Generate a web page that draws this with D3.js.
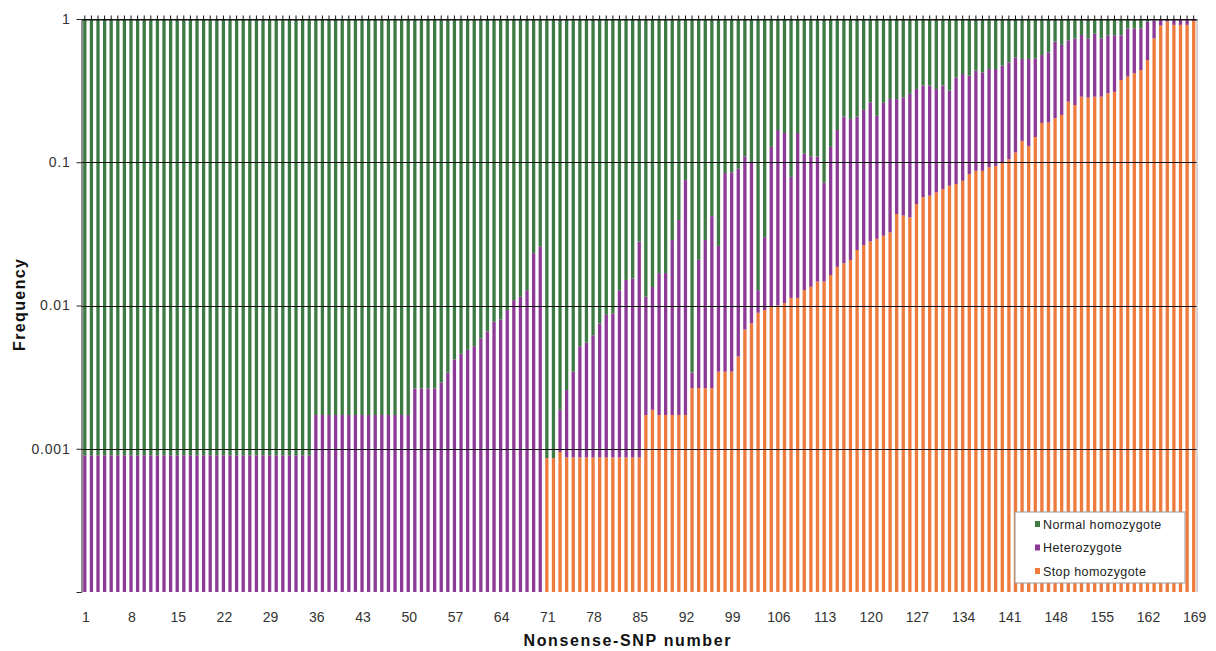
<!DOCTYPE html>
<html>
<head>
<meta charset="utf-8">
<script src="https://cdn.jsdelivr.net/npm/d3@7"></script>
<style>
  body { margin: 0; background: #fff; }
  svg { display: block; font-family: "Liberation Sans", Arial, sans-serif; }
</style>
</head>
<body>
<div id="chart"></div>
<script>
// categories: nonsense-SNP number 1..169
const snpNumber = d3.range(1, 170);

// genotype frequencies
const stopHomozygote = [
  0, 0, 0, 0, 0, 0, 0, 0, 0, 0,
  0, 0, 0, 0, 0, 0, 0, 0, 0, 0,
  0, 0, 0, 0, 0, 0, 0, 0, 0, 0,
  0, 0, 0, 0, 0, 0, 0, 0, 0, 0,
  0, 0, 0, 0, 0, 0, 0, 0, 0, 0,
  0, 0, 0, 0, 0, 0, 0, 0, 0, 0,
  0, 0, 0, 0, 0, 0, 0, 0, 0, 0,
  0.00086, 0.00086, 0.00095, 0.00087, 0.00087, 0.00087, 0.00087, 0.00087, 0.00087, 0.00087,
  0.00087, 0.00087, 0.00087, 0.00087, 0.00087, 0.00172, 0.00187, 0.00172, 0.00172, 0.00172,
  0.00172, 0.00172, 0.00265, 0.00265, 0.00265, 0.00265, 0.00345, 0.00345, 0.00345, 0.0044,
  0.0068, 0.0075, 0.0089, 0.0093, 0.0098, 0.0100, 0.0104, 0.0113, 0.0113, 0.0128,
  0.0135, 0.0147, 0.0147, 0.0163, 0.0186, 0.0197, 0.0208, 0.0244, 0.0264, 0.0280,
  0.0292, 0.0307, 0.0324, 0.0435, 0.0425, 0.0412, 0.0511, 0.0571, 0.0585, 0.0617,
  0.065, 0.0686, 0.0705, 0.0742, 0.0827, 0.0871, 0.0871, 0.0923, 0.0944, 0.100,
  0.105, 0.117, 0.141, 0.130, 0.150, 0.188, 0.19, 0.203, 0.214, 0.265,
  0.251, 0.287, 0.283, 0.287, 0.287, 0.303, 0.31, 0.375, 0.396, 0.418,
  0.44, 0.517, 0.733, 0.90, 0.96, 0.91, 0.91, 0.91, 0.97
];

const heterozygote = [
  0.0009, 0.0009, 0.0009, 0.0009, 0.0009, 0.0009, 0.0009, 0.0009, 0.0009, 0.0009,
  0.0009, 0.0009, 0.0009, 0.0009, 0.0009, 0.0009, 0.0009, 0.0009, 0.0009, 0.0009,
  0.0009, 0.0009, 0.0009, 0.0009, 0.0009, 0.0009, 0.0009, 0.0009, 0.0009, 0.0009,
  0.0009, 0.0009, 0.0009, 0.0009, 0.0009, 0.00172, 0.00172, 0.00172, 0.00172, 0.00172,
  0.00172, 0.00172, 0.00172, 0.00172, 0.00172, 0.00172, 0.00172, 0.00172, 0.00172, 0.00172,
  0.00264, 0.00264, 0.00264, 0.00264, 0.0029, 0.0034, 0.0042, 0.0046, 0.0049, 0.0052,
  0.0059, 0.0066, 0.0077, 0.0080, 0.0093, 0.0109, 0.0115, 0.0128, 0.0232, 0.0257,
  0, 0, 0.00092, 0.0017, 0.00258, 0.00433, 0.00463, 0.00533, 0.00663, 0.00773,
  0.00793, 0.0119, 0.0142, 0.0146, 0.0270, 0.0098, 0.0116, 0.0151, 0.0151, 0.0269,
  0.0378, 0.0733, 0.00075, 0.0182, 0.0260, 0.0394, 0.0226, 0.0806, 0.0816, 0.0856,
  0.1032, 0.0925, 0.0039, 0.0207, 0.1182, 0.158, 0.1496, 0.0677, 0.1487, 0.1022,
  0.0965, 0.0953, 0.0573, 0.1117, 0.1494, 0.1883, 0.1792, 0.1836, 0.2056, 0.234,
  0.1818, 0.2293, 0.2436, 0.2325, 0.2415, 0.2588, 0.2739, 0.2859, 0.2845, 0.2633,
  0.278, 0.2474, 0.3205, 0.3388, 0.3193, 0.3489, 0.3369, 0.3557, 0.3536, 0.372,
  0.393, 0.423, 0.385, 0.396, 0.381, 0.372, 0.395, 0.492, 0.446, 0.445,
  0.479, 0.486, 0.447, 0.503, 0.443, 0.467, 0.46, 0.395, 0.464, 0.442,
  0.42, 0.443, 0.247, 0.10, 0.04, 0.09, 0.09, 0.09, 0.03
];

const seriesKeys = ["stop", "het", "normal"];
const seriesColors = ["#ee7b3b", "#8d3a97", "#3e7b44"];
const legendNames = ["Normal homozygote", "Heterozygote", "Stop homozygote"];
const legendColors = ["#3e7b44", "#8d3a97", "#ee7b3b"];
const yTicks = [1, 0.1, 0.01, 0.001, 0.0001];
const yTickLabels = ["1", "0.1", "0.01", "0.001", ""];
const xTickLabels = [1, 8, 15, 22, 29, 36, 43, 50, 57, 64, 71, 78, 85, 92, 99,
  106, 113, 120, 127, 134, 141, 148, 155, 162, 169];

const rows = snpNumber.map((n, i) => ({
  snp: n,
  stop: stopHomozygote[i],
  het: heterozygote[i],
  normal: Math.max(0, 1 - stopHomozygote[i] - heterozygote[i])
}));

const W = 1216, H = 651;
const plot = { left: 81.5, right: 1197, top: 19, bottom: 592 };

const svg = d3.select("#chart").append("svg")
  .attr("width", W).attr("height", H);

const x = d3.scaleBand()
  .domain(snpNumber)
  .range([plot.left, plot.right])
  .paddingInner(0.5)
  .paddingOuter(0.25);

const y = d3.scaleLog()
  .domain([0.0001, 1])
  .range([plot.bottom, plot.top])
  .clamp(true);

// bars
const stacked = d3.stack().keys(seriesKeys)(rows);
svg.append("g").selectAll("g")
  .data(stacked)
  .join("g")
  .attr("fill", (d, i) => seriesColors[i])
  .selectAll("rect")
  .data(d => d)
  .join("rect")
  .attr("x", d => x(d.data.snp))
  .attr("width", x.bandwidth())
  .attr("y", d => y(d[1]))
  .attr("height", d => Math.max(0, y(d[0]) - y(d[1])));

// gridlines
svg.append("g").selectAll("line")
  .data(yTicks.slice(0, 4))
  .join("line")
  .attr("x1", plot.left).attr("x2", plot.right)
  .attr("y1", d => Math.round(y(d)) + 0.5).attr("y2", d => Math.round(y(d)) + 0.5)
  .attr("stroke", "#111").attr("stroke-width", 1);

// right border of plot area
svg.append("line")
  .attr("x1", plot.right).attr("x2", plot.right)
  .attr("y1", plot.top).attr("y2", plot.bottom)
  .attr("stroke", "#a8a8a8");

// category axis crosses at 1 : tick marks on top
svg.append("g")
  .attr("transform", `translate(0,${Math.round(y(1)) + 0.5})`)
  .call(d3.axisTop(x).tickSize(4).tickSizeOuter(0).tickFormat(""))
  .call(g => g.select(".domain").attr("stroke", "#111"))
  .call(g => g.selectAll(".tick line").attr("stroke", "#111"));

// category labels at the bottom
svg.append("g").selectAll("text")
  .data(xTickLabels)
  .join("text")
  .attr("x", d => x(d) + x.bandwidth() / 2 + 1)
  .attr("y", 622)
  .attr("text-anchor", "middle")
  .attr("font-size", 14)
  .attr("fill", "#333")
  .text(d => d);

// value axis
const yAxis = svg.append("g")
  .attr("transform", `translate(${Math.round(plot.left) - 0.5},0)`)
  .call(d3.axisLeft(y).tickValues(yTicks).tickSize(5).tickSizeOuter(0)
    .tickFormat((d, i) => yTickLabels[i]));
yAxis.select(".domain").attr("stroke", "#222");
yAxis.selectAll(".tick line").attr("stroke", "#222");
yAxis.selectAll(".tick text")
  .attr("font-size", 14)
  .attr("font-family", "Liberation Sans, Arial, sans-serif")
  .attr("letter-spacing", 0.8)
  .attr("fill", "#333")
  .attr("x", -11);

// axis titles
svg.append("text")
  .attr("x", 627).attr("y", 646)
  .attr("text-anchor", "middle")
  .attr("font-size", 16).attr("font-weight", "bold")
  .attr("fill", "#111")
  .attr("textLength", 207).attr("lengthAdjust", "spacing")
  .text("Nonsense-SNP number");

svg.append("text")
  .attr("transform", "translate(25,305) rotate(-90)")
  .attr("text-anchor", "middle")
  .attr("font-size", 16).attr("font-weight", "bold")
  .attr("fill", "#111")
  .attr("textLength", 92).attr("lengthAdjust", "spacing")
  .text("Frequency");

// legend
const legend = svg.append("g").attr("transform", "translate(1015,512)");
legend.append("rect")
  .attr("width", 170).attr("height", 71)
  .attr("fill", "#fff").attr("stroke", "#9a9a9a");
const item = legend.selectAll("g")
  .data(legendNames)
  .join("g")
  .attr("transform", (d, i) => `translate(20,${12 + i * 23.5})`);
item.append("rect")
  .attr("x", 0).attr("y", -3).attr("width", 5).attr("height", 6)
  .attr("fill", (d, i) => legendColors[i]);
item.append("text")
  .attr("x", 8).attr("y", 4.5)
  .attr("font-size", 12.5)
  .attr("letter-spacing", 0.4)
  .attr("fill", "#222")
  .text(d => d);
</script>
</body>
</html>
